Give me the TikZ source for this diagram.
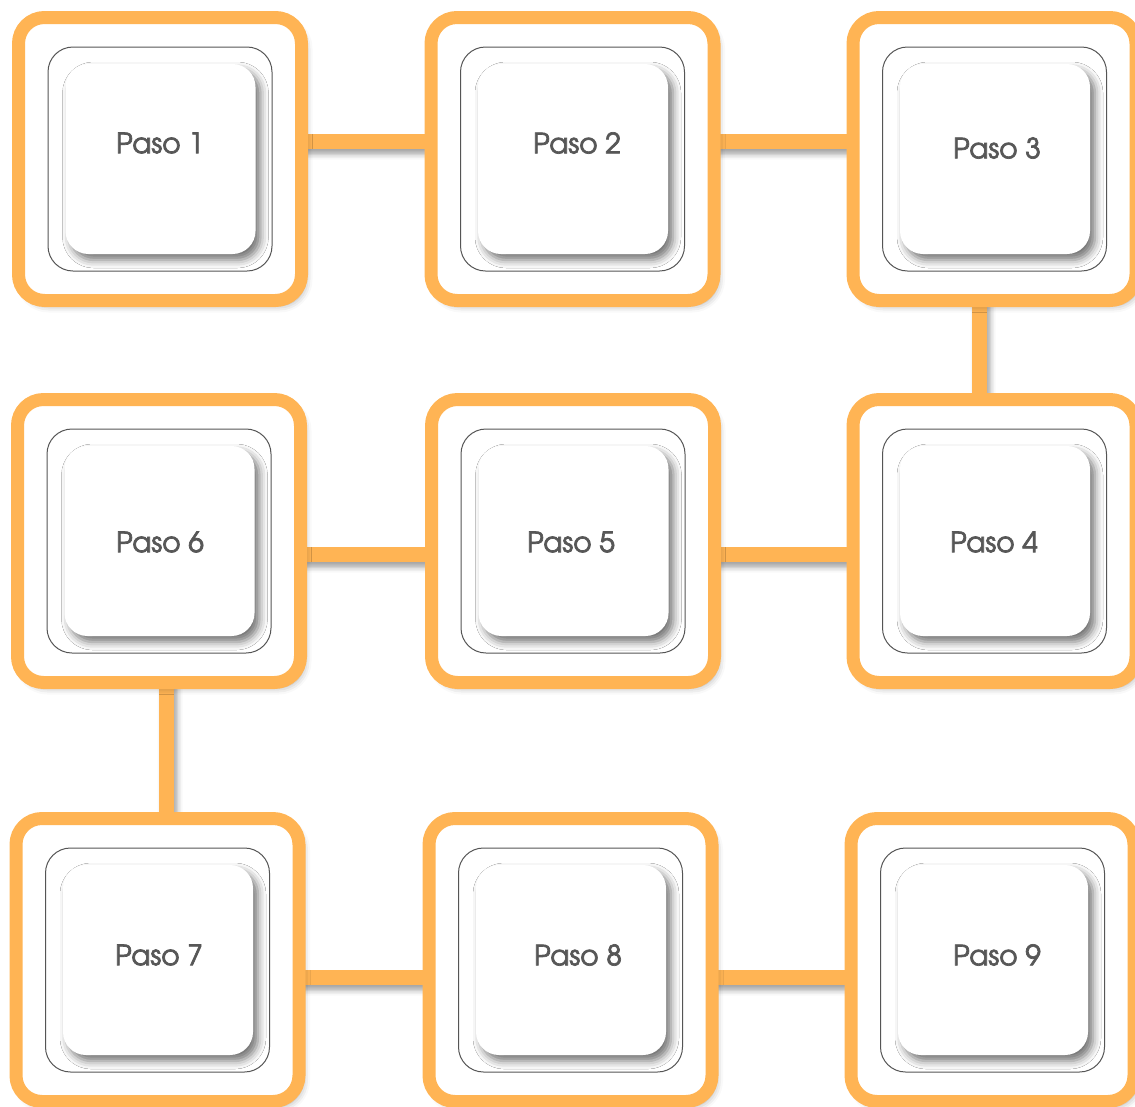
\documentclass[tikz,border=0pt]{standalone}
\usepackage{fontspec}
\setmainfont{TeX Gyre Adventor}[BoldFont={TeX Gyre Adventor}, BoldFeatures={FakeBold=2.5}]
\usetikzlibrary{shadows.blur}
\definecolor{orng}{HTML}{FFB454}
\definecolor{txtgray}{HTML}{575757}
\definecolor{linegray}{HTML}{555555}
\pgfdeclarelayer{bg}
\pgfdeclarelayer{conn}
\pgfsetlayers{bg,conn,main}
\begin{document}
\begin{tikzpicture}[x=1pt,y=-1pt,
  outerbox/.style={draw=orng, line width=13pt, fill=white, rounded corners=26pt,
    minimum width=283pt, minimum height=283pt, inner sep=0pt,
    blur shadow={shadow xshift=4pt, shadow yshift=-5pt, shadow blur radius=7pt, shadow opacity=35}},
  thinbox/.style={draw=linegray, line width=1pt, rounded corners=25pt,
    minimum width=224pt, minimum height=224pt, inner sep=0pt},
  whitebox/.style={fill=white, rounded corners=23pt,
    minimum width=190pt, minimum height=190pt, inner sep=0pt,
    blur shadow={shadow xshift=5pt, shadow yshift=-6pt, shadow blur radius=8pt, shadow opacity=55}},
  label/.style={text=txtgray, font=\bfseries\fontsize{28}{32}\selectfont, inner sep=0pt},
  connector/.style={fill=orng,
    blur shadow={shadow xshift=4pt, shadow yshift=-6pt, shadow blur radius=5pt, shadow opacity=35}}
]
\useasboundingbox (0,0) rectangle (1135,1106);
\begin{pgfonlayer}{bg}
\fill[white] (0,0) rectangle (1135,1106);
\end{pgfonlayer}
% dummy shadowed shape outside the page (first shadow use)
\node[whitebox, minimum width=10pt, minimum height=10pt] (dummy) at (-400,-400) {};

\foreach \i/\cx/\cy/\tx/\ty in {1/160/159/160/143, 2/572.5/159/577/143, 3/994.5/159/997/148,
  4/994.5/541/994/542, 5/573/541/571/542, 6/159/541/160/542,
  7/157.5/960/159/955, 8/570.5/960/578/955, 9/992.5/960/997/955}{
  \node[outerbox] (b\i) at (\cx,\cy) {};
  \node[thinbox] (t\i) at (\cx,\cy) {};
  \node[whitebox] (w\i) at (\cx+0.5,\cy) {};
  \node[label] (l\i) at (\tx,\ty) {Paso \i};
}

% reference coordinates for connector bands
\coordinate (r1a) at (0,133.5); \coordinate (r1b) at (0,148.5);
\coordinate (r2a) at (0,546.5); \coordinate (r2b) at (0,561.5);
\coordinate (r3a) at (0,969.5); \coordinate (r3b) at (0,984.5);
\coordinate (v1a) at (971.5,0); \coordinate (v1b) at (986.5,0);
\coordinate (v2a) at (158.5,0); \coordinate (v2b) at (173.5,0);

\begin{pgfonlayer}{conn}
\fill[connector] (b1.center |- r1a) rectangle (b2.center |- r1b);
\fill[connector] (b2.center |- r1a) rectangle (b3.center |- r1b);
\fill[connector] (v1a |- b3.center) rectangle (v1b |- b4.center);
\fill[connector] (b5.center |- r2a) rectangle (b4.center |- r2b);
\fill[connector] (b6.center |- r2a) rectangle (b5.center |- r2b);
\fill[connector] (v2a |- b6.center) rectangle (v2b |- b7.center);
\fill[connector] (b7.center |- r3a) rectangle (b8.center |- r3b);
\fill[connector] (b8.center |- r3a) rectangle (b9.center |- r3b);
\end{pgfonlayer}
\end{tikzpicture}
\end{document}
